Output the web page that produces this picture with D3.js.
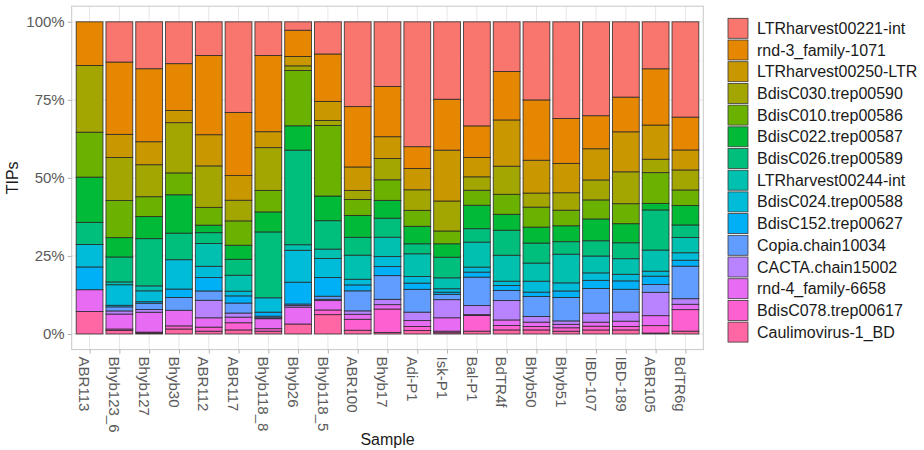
<!DOCTYPE html>
<html>
<head>
<meta charset="utf-8">
<script src="https://cdn.jsdelivr.net/npm/d3@7"></script>
<style>
  body { margin: 0; background: #fff; }
  svg { display: block; font-family: "Liberation Sans", Arial, sans-serif; }
</style>
</head>
<body>
<svg id="chart" width="924" height="450"></svg>
<script>
// ---- data ----
const samples = ["ABR113","Bhyb123_6","Bhyb127","Bhyb30","ABR112","ABR117","Bhyb118_8","Bhyb26","Bhyb118_5","ABR100","Bhyb17","Adi-P1","Isk-P1","Bal-P1","BdTR4f","Bhyb50","Bhyb51","IBD-107","IBD-189","ABR105","BdTR6g"];
const categories = ["LTRharvest00221-int","rnd-3_family-1071","LTRharvest00250-LTR","BdisC030.trep00590","BdisC010.trep00586","BdisC022.trep00587","BdisC026.trep00589","LTRharvest00244-int","BdisC024.trep00588","BdisC152.trep00627","Copia.chain10034","CACTA.chain15002","rnd-4_family-6658","BdisC078.trep00617","Caulimovirus-1_BD"];
const colors = ["#F8766D","#E58700","#C99800","#A3A500","#6BB100","#00BA38","#00BF7D","#00C0AF","#00BCD8","#00B0F6","#619CFF","#B983FF","#E76BF3","#FD61D1","#FF67A4"];

// percentage of TIPs per sample, one array per category (same order as samples)
const LTRharvest00221_int = [0,12.9,15.1,13.4,10.8,29.0,10.8,2.7,10.3,27.1,20.7,40.0,24.8,33.3,15.9,25.0,31.0,30.1,24.1,15.1,30.5];
const rnd3_family_1071    = [14.0,23.2,23.5,15.0,25.4,20.2,24.4,8.4,15.2,19.3,16.1,7.0,16.3,10.1,15.5,19.3,14.4,10.6,11.1,18.1,10.5];
const LTRharvest00250_LTR = [0,7.4,7.4,3.9,10.0,7.9,5.1,3.0,6.1,7.5,7.0,6.8,16.3,6.2,14.8,10.5,9.4,10.0,12.8,11.0,6.4];
const BdisC030            = [21.4,13.8,10.3,16.1,13.3,6.6,13.7,1.5,1.6,2.9,6.8,6.6,9.6,4.3,9.0,4.5,5.6,6.4,10.2,4.3,6.4];
const BdisC010            = [14.4,11.9,6.4,7.0,5.7,7.8,6.9,17.7,22.6,5.1,6.6,5.1,4.1,4.8,6.4,6.4,5.0,6.1,6.4,9.9,5.0];
const BdisC022            = [14.5,6.2,7.1,12.3,2.4,4.5,6.4,7.8,7.9,7.0,5.7,5.6,4.3,7.5,5.1,5.1,5.1,7.0,6.1,2.1,6.2];
const BdisC026            = [7.1,8.0,15.2,8.5,3.5,5.1,21.1,30.3,9.1,5.7,6.1,3.2,6.6,4.3,8.0,6.4,4.0,4.9,5.1,12.9,4.0];
const LTRharvest00244_int = [0,0.9,1.6,0,7.3,5.1,0,1.8,3.0,7.7,6.2,7.3,3.5,8.0,8.3,5.8,9.2,5.4,5.0,6.8,4.9];
const BdisC024            = [7.2,6.6,3.5,9.4,3.6,1.5,4.6,10.2,6.1,1.8,3.2,2.1,1.1,1.6,1.4,3.5,2.6,2.4,2.1,1.6,2.4];
const BdisC152            = [7.3,0.5,0.5,2.7,4.3,2.3,1.3,7.0,6.0,1.9,2.9,2.0,0.7,1.6,1.6,1.4,2.1,2.6,2.7,2.7,1.9];
const Copia               = [0,1.3,2.0,4.1,3.0,3.2,0.5,0.5,1.0,6.4,7.6,7.3,1.7,9.1,3.2,6.4,7.5,7.9,7.3,2.5,10.4];
const CACTA               = [0,1.0,0.9,0,5.6,1.3,0.3,0.5,0.4,1.1,1.7,2.7,5.8,2.9,6.2,1.8,1.1,2.9,2.9,7.5,1.8];
const rnd4_family_6658    = [7.0,4.8,6.4,5.0,3.0,1.8,3.2,5.4,3.0,1.6,1.4,1.9,4.3,0.3,1.8,1.4,1.1,1.3,1.7,3.2,1.7];
const BdisC078            = [0,0.5,0.3,1.0,1.3,2.3,0.8,0,1.5,3.5,7.5,1.3,0.5,5.0,1.4,1.1,1.1,1.2,1.1,2.4,6.9];
const Caulimovirus        = [7.2,1.1,0.3,1.6,0.9,1.3,0.9,3.2,6.2,1.2,0.5,1.1,0.4,0.9,1.3,1.3,0.9,1.3,1.3,0.3,0.9];
const seriesValues = [LTRharvest00221_int,rnd3_family_1071,LTRharvest00250_LTR,BdisC030,BdisC010,BdisC022,BdisC026,LTRharvest00244_int,BdisC024,BdisC152,Copia,CACTA,rnd4_family_6658,BdisC078,Caulimovirus];
const yTicks = [0,0.25,0.5,0.75,1];
const yTickLabels = ["0%","25%","50%","75%","100%"];

// ---- build table ----
const table = samples.map((s,i) => {
  const row = {sample: s};
  categories.forEach((c,k) => row[c] = seriesValues[k][i]);
  return row;
});

const svg = d3.select("#chart");
const panel = {left: 71.7, right: 703.3, top: 6.2, bottom: 349.6};

const x = d3.scalePoint().domain(samples).range([panel.left, panel.right]).padding(0.6);
const step = x.step();
const barW = step * 0.9;
const y = d3.scaleLinear().domain([-0.05, 1.05]).range([panel.bottom, panel.top]);
const color = d3.scaleOrdinal().domain(categories).range(colors);

// panel background + grid
const g = svg.append("g");
g.append("rect").attr("x", panel.left).attr("y", panel.top)
  .attr("width", panel.right - panel.left).attr("height", panel.bottom - panel.top)
  .attr("fill", "#fff");
[0.125,0.375,0.625,0.875].forEach(v => {
  g.append("line").attr("x1", panel.left).attr("x2", panel.right)
    .attr("y1", y(v)).attr("y2", y(v)).attr("stroke", "#f0f0f0").attr("stroke-width", 0.5);
});
yTicks.forEach(v => {
  g.append("line").attr("x1", panel.left).attr("x2", panel.right)
    .attr("y1", y(v)).attr("y2", y(v)).attr("stroke", "#e6e6e6").attr("stroke-width", 1);
});
samples.forEach(s => {
  g.append("line").attr("x1", x(s)).attr("x2", x(s))
    .attr("y1", panel.top).attr("y2", panel.bottom).attr("stroke", "#e6e6e6").attr("stroke-width", 1);
});

// stacked bars (first category on top)
const stackKeys = categories.slice().reverse();
const stack = d3.stack().keys(stackKeys).offset(d3.stackOffsetExpand);
const layers = stack(table);
const layerG = svg.append("g").selectAll("g").data(layers).join("g")
  .attr("fill", d => color(d.key));
layerG.selectAll("rect").data(d => d.filter(p => p[1] - p[0] > 0)).join("rect")
  .attr("x", d => x(d.data.sample) - barW / 2)
  .attr("width", barW)
  .attr("y", d => y(d[1]))
  .attr("height", d => y(d[0]) - y(d[1]))
  .attr("stroke", "#262626").attr("stroke-width", 0.9).attr("stroke-opacity", 0.85);

// panel border
svg.append("rect").attr("x", panel.left).attr("y", panel.top)
  .attr("width", panel.right - panel.left).attr("height", panel.bottom - panel.top)
  .attr("fill", "none").attr("stroke", "#c8c8c8").attr("stroke-width", 1);

// y axis
const yAxis = d3.axisLeft(y).tickValues(yTicks).tickFormat((d,i) => yTickLabels[i]).tickSize(4).tickPadding(3);
const ya = svg.append("g").attr("transform", `translate(${panel.left},0)`).call(yAxis);
ya.select(".domain").remove();
ya.selectAll(".tick line").attr("stroke", "#b3b3b3");
ya.selectAll(".tick text").attr("fill", "#5a5a5a").style("font-size", "15px")
  .style("font-family", "'Liberation Sans', Arial, sans-serif");

// x axis
const xAxis = d3.axisBottom(x).tickSize(4).tickPadding(0);
const xa = svg.append("g").attr("transform", `translate(0,${panel.bottom})`).call(xAxis);
xa.select(".domain").remove();
xa.selectAll(".tick line").attr("stroke", "#b3b3b3");
xa.selectAll(".tick text")
  .attr("fill", "#5a5a5a").style("font-size", "15px")
  .style("font-family", "'Liberation Sans', Arial, sans-serif")
  .attr("text-anchor", "start")
  .attr("transform", "translate(0,7) rotate(90)")
  .attr("x", 0).attr("y", 0).attr("dy", "0.72em");

// axis titles
svg.append("text").attr("x", (panel.left + panel.right) / 2).attr("y", 445)
  .attr("text-anchor", "middle").style("font-size", "16px").attr("fill", "#1a1a1a").text("Sample");
svg.append("text").attr("transform", `translate(18,${(panel.top + panel.bottom) / 2}) rotate(-90)`)
  .attr("text-anchor", "middle").style("font-size", "16px").attr("fill", "#1a1a1a").text("TIPs");

// legend
const lg = svg.append("g").attr("transform", "translate(728,18.3)");
const keyStep = 21.7, keySize = 20;
categories.forEach((c, i) => {
  const row = lg.append("g").attr("transform", `translate(0,${i * keyStep})`);
  row.append("rect").attr("width", keySize).attr("height", keySize)
    .attr("fill", color(c)).attr("stroke", "#3a3a3a").attr("stroke-width", 0.8);
  row.append("text").attr("x", 29).attr("y", keySize / 2).attr("dy", "0.35em")
    .style("font-size", "16px").attr("fill", "#1a1a1a").text(c);
});
</script>
</body>
</html>
